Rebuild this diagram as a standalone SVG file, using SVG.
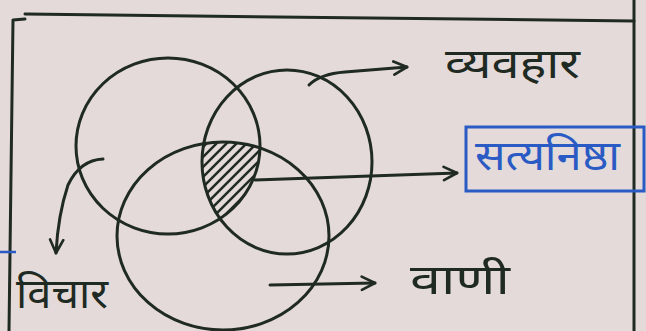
<svg xmlns="http://www.w3.org/2000/svg" width="646" height="331" viewBox="0 0 646 331">
<style>
.ink{fill:none;stroke:#1f2a22;stroke-width:3;stroke-linecap:round;stroke-linejoin:round}
.hatch{stroke:#1f2a22;stroke-width:2.5;stroke-linecap:round}
.lbl{font-family:"Noto Sans Devanagari","Noto Sans","DejaVu Sans",sans-serif;fill:#1f2a22;font-size:42px}
.blue{fill:#2a5bc4}
</style>
<defs>
<marker id="ah" viewBox="0 0 10 10" refX="9" refY="5" markerWidth="5.5" markerHeight="5.5" orient="auto" markerUnits="strokeWidth">
<path d="M1,1 L9,5 L1,9" fill="none" stroke="#1f2a22" stroke-width="1.6" stroke-linecap="round" stroke-linejoin="round"/>
</marker>
<clipPath id="cA"><ellipse cx="168" cy="146" rx="92" ry="88"/></clipPath>
<clipPath id="cB"><ellipse cx="287" cy="162" rx="85" ry="92"/></clipPath>
<clipPath id="cC"><ellipse cx="223" cy="236" rx="106" ry="94"/></clipPath>
</defs>
<rect width="646" height="331" fill="#e4dada"/>
<g id="frame">
<path class="ink" d="M25,14 L634,21"/>
<path class="ink" d="M25,19 L13,20 L9,331"/>
<path class="ink" d="M634,0 L634,331"/>
<path d="M0,252 L16,252" stroke="#2a5bc4" stroke-width="2.5"/>
</g>
<g id="circle-vichar"><ellipse class="ink" cx="168" cy="146" rx="92" ry="88"/></g>
<g id="circle-vyavahar"><ellipse class="ink" cx="287" cy="162" rx="85" ry="92"/></g>
<g id="circle-vani"><ellipse class="ink" cx="223" cy="236" rx="106" ry="94"/></g>
<g id="intersection">
<g clip-path="url(#cA)"><g clip-path="url(#cB)"><g clip-path="url(#cC)">
<g class="hatch">
<line x1="190" y1="150" x2="280" y2="60"/>
<line x1="190" y1="160" x2="280" y2="70"/>
<line x1="190" y1="170" x2="280" y2="80"/>
<line x1="190" y1="180" x2="280" y2="90"/>
<line x1="190" y1="190" x2="280" y2="100"/>
<line x1="190" y1="200" x2="280" y2="110"/>
<line x1="190" y1="210" x2="280" y2="120"/>
<line x1="190" y1="220" x2="280" y2="130"/>
<line x1="190" y1="230" x2="280" y2="140"/>
<line x1="190" y1="240" x2="280" y2="150"/>
<line x1="190" y1="250" x2="280" y2="160"/>
<line x1="190" y1="260" x2="280" y2="170"/>
<line x1="190" y1="270" x2="280" y2="180"/>
<line x1="190" y1="280" x2="280" y2="190"/>
</g>
</g></g></g>
</g>
<g id="connectors">
<path class="ink" d="M309,85 Q320,74 345,72 L407,67" marker-end="url(#ah)"/>
<path class="ink" d="M255,180 L457,173" marker-end="url(#ah)"/>
<path class="ink" d="M103,159 Q80,160 68,185 Q58,215 56,253" marker-end="url(#ah)"/>
<path class="ink" d="M270,285 L375,283" marker-end="url(#ah)"/>
</g>
<g id="label-vyavahar"><text class="lbl" x="445" y="78" textLength="135" lengthAdjust="spacingAndGlyphs">व्यवहार</text></g>
<g id="label-satyanishtha">
<rect x="466" y="127" width="178" height="64" fill="none" stroke="#2a5bc4" stroke-width="3"/>
<text class="lbl blue" x="475" y="170" textLength="145" lengthAdjust="spacingAndGlyphs">सत्यनिष्ठा</text>
</g>
<g id="label-vichar"><text class="lbl" x="16" y="308" textLength="92" lengthAdjust="spacingAndGlyphs">विचार</text></g>
<g id="label-vani"><text class="lbl" x="410" y="294" textLength="100" lengthAdjust="spacingAndGlyphs">वाणी</text></g>
</svg>
